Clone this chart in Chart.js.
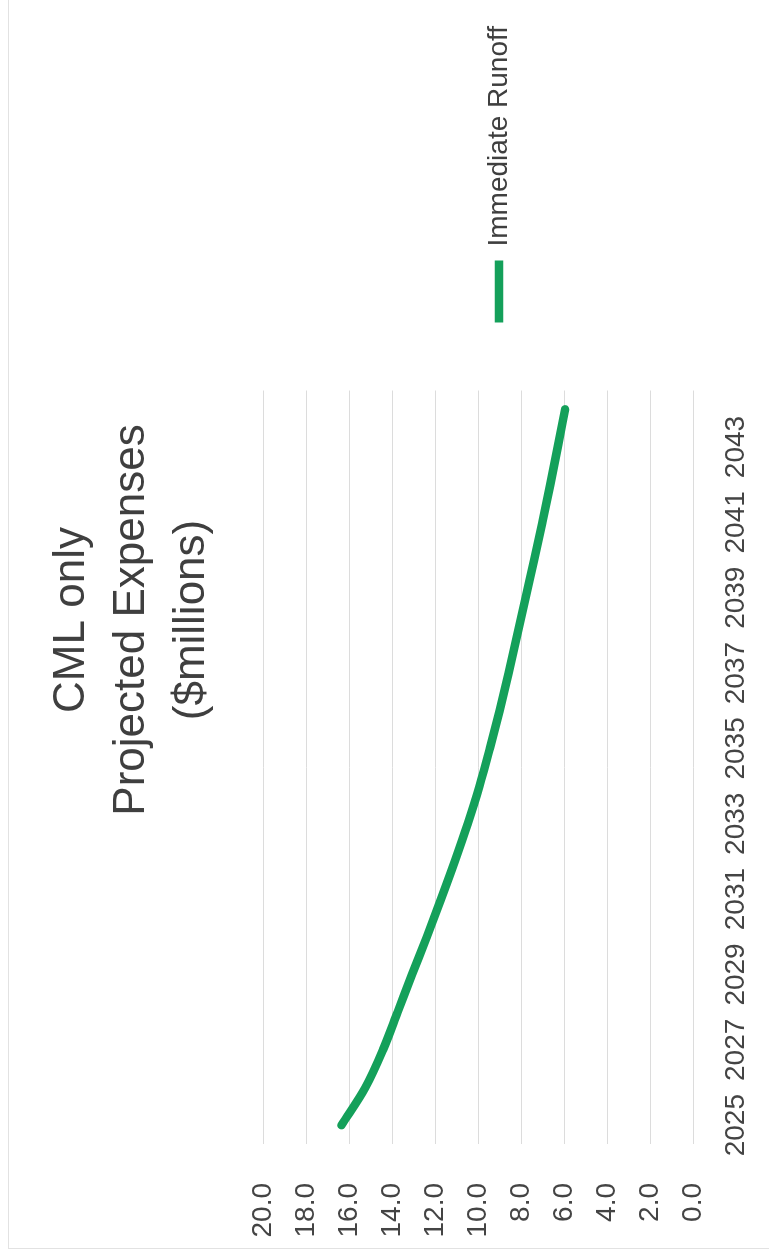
<!DOCTYPE html>
<html>
<head>
<meta charset="utf-8">
<script src="https://cdn.jsdelivr.net/npm/chart.js@4"></script>
<style>
  html, body { margin: 0; padding: 0; background: #fff; overflow: hidden; }
  body { width: 769px; height: 1258px; position: relative; }
  #wrap {
    position: absolute; left: 0; top: 0;
    width: 1258px; height: 769px;
    transform-origin: 0 0;
    transform: translateY(1258px) rotate(-90deg);
  }
  #frame {
    position: absolute; left: 9px; top: 8px;
    width: 1400px; height: 900px;
    border-left: 1px solid #e2e2e2; border-top: 1px solid #e2e2e2;
  }
  #chart { position: absolute; left: 0; top: 0; }
</style>
</head>
<body>
<div id="wrap">
  <div id="frame"></div>
  <canvas id="chart" width="1258" height="769"></canvas>
</div>
<script>
  const years = ["2025", "2026", "2027", "2028", "2029", "2030", "2031", "2032", "2033", "2034",
    "2035", "2036", "2037", "2038", "2039", "2040", "2041", "2042", "2043", "2044"];
  const immediateRunoff = [16.35, 15.24, 14.42, 13.74, 13.07, 12.38, 11.72, 11.08, 10.48, 9.93,
    9.45, 9.0, 8.58, 8.18, 7.79, 7.39, 7.01, 6.64, 6.29, 5.95];
  const titleLines = ["CML only", "Projected Expenses", "($millions)"];
  const seriesName = "Immediate Runoff";

  const font = "'Liberation Sans', Arial, sans-serif";
  const green = "#14a05a";

  new Chart(document.getElementById("chart"), {
    type: "line",
    data: {
      labels: years,
      datasets: [
        {
          label: seriesName,
          data: immediateRunoff,
          borderColor: green,
          backgroundColor: green,
          borderWidth: 8.5,
          borderCapStyle: "round",
          borderJoinStyle: "round",
          cubicInterpolationMode: "monotone",
          pointRadius: 0,
          pointHoverRadius: 0,
          pointStyle: "line",
        },
      ],
    },
    options: {
      responsive: false,
      animation: false,
      events: [],
      layout: {
        padding: { left: 20, right: 2, top: 10, bottom: 14 },
      },
      plugins: {
        title: {
          display: true,
          text: titleLines,
          color: "#3f3f3f",
          font: { family: font, size: 44, weight: "normal", lineHeight: 1.364 },
          padding: { top: 32, bottom: 41 },
        },
        legend: {
          position: "right",
          fullSize: false,
          maxWidth: 420,
          title: {
            display: true,
            text: " ",
            font: { size: 10, lineHeight: 1 },
            padding: { top: 32, bottom: 0 },
          },
          labels: {
            usePointStyle: true,
            pointStyleWidth: 62,
            padding: 68,
            color: "#3f3f3f",
            font: { family: font, size: 28 },
            // a trailing en space keeps some room to the right of the legend text
            generateLabels: (chart) =>
              Chart.defaults.plugins.legend.labels.generateLabels(chart).map((item) => ({
                ...item,
                text: item.text + "\u2002",
              })),
          },
        },
        tooltip: { enabled: false },
      },
      scales: {
        x: {
          offset: true,
          grid: { display: false, drawTicks: false },
          border: { display: false },
          afterFit: (scale) => { scale.height = 62; },
          ticks: {
            autoSkip: false,
            maxRotation: 0,
            padding: 26,
            color: "#444",
            font: { family: font, size: 28 },
            callback: function (value, index) {
              return index % 2 === 0 ? years[index] : "";
            },
          },
        },
        y: {
          min: 0,
          max: 20,
          grid: { color: "#dcdcdc", lineWidth: 1, drawTicks: false },
          border: { display: false },
          afterFit: (scale) => { scale.width = 94; },
          ticks: {
            stepSize: 2,
            padding: 39,
            color: "#444",
            font: { family: font, size: 28 },
            callback: (v) => v.toFixed(1),
          },
        },
      },
    },
  });
</script>
</body>
</html>
